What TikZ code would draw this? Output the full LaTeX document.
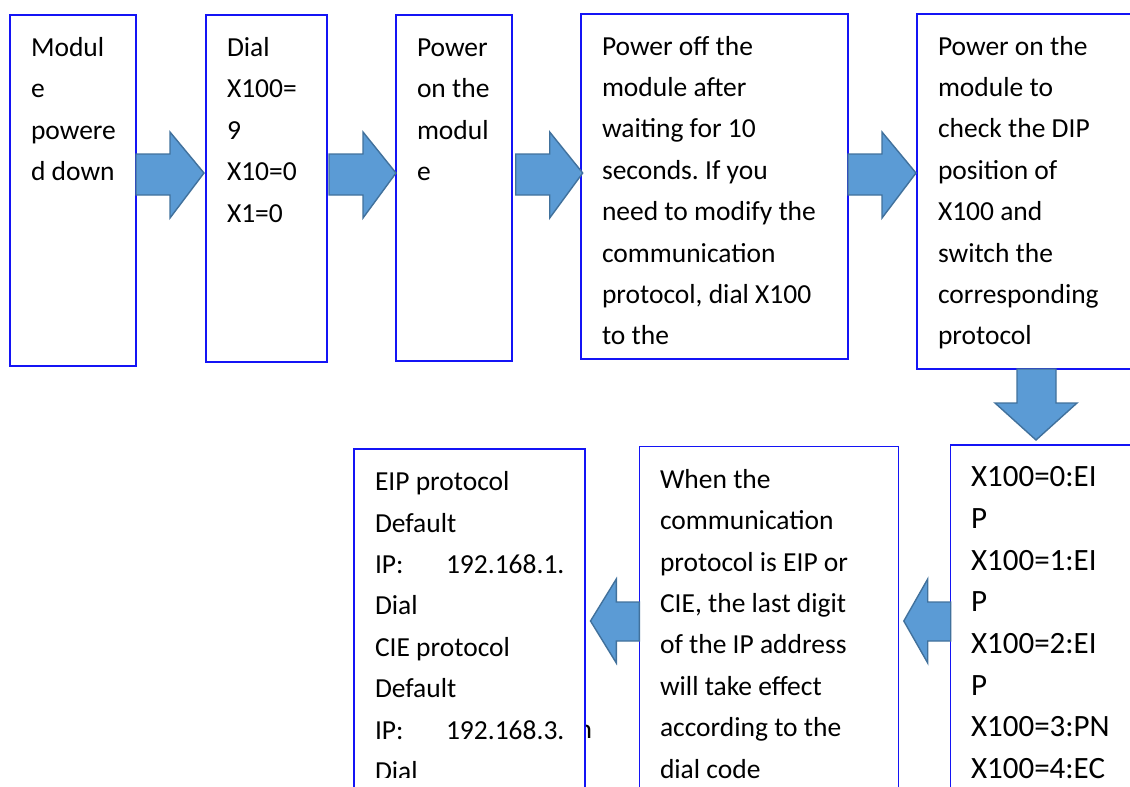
\documentclass[tikz,border=0pt]{standalone}
\usepackage{fontspec}
\setmainfont{Carlito}
\usetikzlibrary{calc}
\frenchspacing
\definecolor{boxblue}{RGB}{20,20,245}
\definecolor{arrowfill}{RGB}{91,155,213}
\definecolor{arrowedge}{RGB}{65,113,156}
% several lines of text whose baseline is that of the first line
\newcommand\lines[1]{\begin{tabular}[t]{@{}l@{}}#1\end{tabular}}
\tikzset{
  stepbox/.style={draw=boxblue, line width=1.1pt, fill=white, inner sep=0pt,
    outer sep=0pt, anchor=north west},
  blockarrow/.style={fill=arrowfill, draw=arrowedge, line width=1.4pt, line join=miter},
  txt/.style={inner sep=0pt, outer sep=0pt, anchor=base west,
    font=\fontsize{27.5}{41.4}\selectfont},
  bigtxt/.style={txt, font=\fontsize{31}{41.7}\selectfont},
}
% right-pointing block arrow: source, target, gap after source, tip shift
\newcommand\rightblock[4]{%
  \draw[blockarrow] ($(#1.east |- 0,154)+(#3,0)$) -- ++(34,0) -- ++(0,-22)
    -- ($(#2.west |- 0,173)+(#4,0)$) -- ($(#1.east |- 0,218)+(#3+34,0)$)
    -- ++(0,-23) -- ($(#1.east |- 0,195)+(#3,0)$) -- cycle;}
% left-pointing block arrow: source, target
\newcommand\leftblock[2]{%
  \draw[blockarrow] (#1.west |- 0,602) -- ++(-23,0) -- ++(0,-23)
    -- ($(#2.east |- 0,621)+(5.5,0)$) -- ($(#1.west |- 0,663)+(-23,0)$)
    -- ++(0,-22) -- (#1.west |- 0,641) -- cycle;}
\begin{document}
\begin{tikzpicture}[x=1pt,y=-1pt]
\useasboundingbox (0,0) rectangle (1130,787);
\clip (0,0) rectangle (1130,787);

% overflowing letter peeking out from behind the last box
\node[txt] (frag) at (577.5,738.3) {n};

% boxes
\node[stepbox, minimum width=126pt, minimum height=351pt] (b1) at (10,15) {};
\node[stepbox, minimum width=121pt, minimum height=347pt] (b2) at (206,15) {};
\node[stepbox, minimum width=116pt, minimum height=346pt] (b3) at (396,15) {};
\node[stepbox, minimum width=267pt, minimum height=345pt] (b4) at (581,14) {};
\node[stepbox, minimum width=240pt, minimum height=355pt] (b5) at (917,14) {};
\node[stepbox, minimum width=240pt, minimum height=400pt] (b6) at (950.7,445) {};
\node[stepbox, minimum width=259pt, minimum height=400pt] (b7) at (639.3,446.7) {};
\node[stepbox, minimum width=231pt, minimum height=400pt] (b8) at (354,449) {};

% texts
\node[txt] (t1) at (31,56.5) {\lines{Modul\\e\\powere\\d down}};
\node[txt] (t2) at (227,56.5) {\lines{Dial\\X100=\\9\\X10=0\\X1=0}};
\node[txt] (t3) at (417,56.5) {\lines{Power\\on the\\modul\\e}};
\node[txt] (t4) at (602,55) {\lines{Power off the\\module after\\waiting for 10\\seconds. If you\\need to modify the\\communication\\protocol, dial X100\\to the}};
\node[txt] (t5) at (938,55) {\lines{Power on the\\module to\\check the DIP\\position of\\X100 and\\switch the\\corresponding\\protocol}};
\node[bigtxt] (t6) at (971,486.7) {\lines{X100=0:EI\\P\\X100=1:EI\\P\\X100=2:EI\\P\\X100=3:PN\\X100=4:EC}};
\node[txt] (t7) at (660,488.3) {\lines{When the\\communication\\protocol is EIP or\\CIE, the last digit\\of the IP address\\will take effect\\according to the\\dial code}};
\begin{scope}
  \clip (354,449) rectangle (585,777);
  \node[txt] (t8) at (375,490.7) {\lines{EIP protocol\\Default\\\makebox[71pt][l]{IP:}192.168.1.\\Dial\\CIE protocol\\Default\\\makebox[71pt][l]{IP:}192.168.3.\\Dial}};
\end{scope}

% arrows
\rightblock{b1}{b2}{0}{-2}
\rightblock{b2}{b3}{2}{0}
\rightblock{b3}{b4}{3.7}{1.7}
\rightblock{b4}{b5}{0}{-1}
\draw[blockarrow] (1017,0 |- b5.south) -- (1017,403) -- (995,403) -- (1036,440)
  -- (1077,403) -- (1056,403) -- (1056,0 |- b5.south) -- cycle;
\leftblock{b6}{b7}
\leftblock{b7}{b8}
\end{tikzpicture}
\end{document}
